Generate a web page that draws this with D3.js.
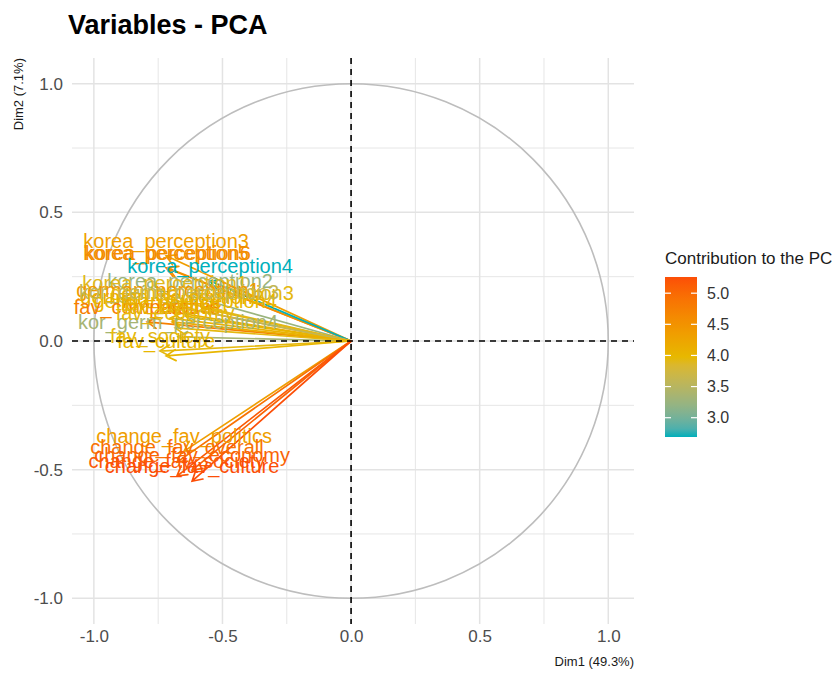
<!DOCTYPE html>
<html>
<head>
<meta charset="utf-8">
<title>Variables - PCA</title>
<script src="https://d3js.org/d3.v7.min.js"></script>
<style>
body { margin: 0; background: #fff; }
text { font-family: 'Liberation Sans', Arial, sans-serif; }
</style>
</head>
<body>
<div id="my_dataviz"></div>
<script>
// variables, coordinates on Dim1 / Dim2 and contribution
var varNames = ["korea_perception3", "korea_perception5", "korea_perception6", "korea_perception4",
  "korea_perception2", "korea_perception1", "german_perception1", "german_perception2",
  "german_perception3", "german_perception4", "kor_germ_perception3", "kor_germ_perception4",
  "fav_comparative", "fav_politics", "fav_overall", "fav_economy", "fav_society", "fav_culture",
  "change_fav_politics", "change_fav_overall", "change_fav_economy", "change_fav_society", "change_fav_culture"];
var dim1 = [-0.719, -0.719, -0.712, -0.548, -0.626, -0.723, -0.712, -0.696, -0.579, -0.645, -0.669, -0.673,
  -0.793, -0.704, -0.696, -0.684, -0.743, -0.719,
  -0.649, -0.677, -0.618, -0.677, -0.618];
var dim2 = [0.331, 0.284, 0.284, 0.233, 0.175, 0.167, 0.140, 0.113, 0.128, 0.097, 0.132, 0.016,
  0.074, 0.089, 0.074, 0.051, -0.039, -0.058,
  -0.428, -0.471, -0.502, -0.525, -0.545];
var contrib = [4.35, 4.6, 4.55, 2.69, 3.25, 3.9, 4.4, 4.1, 3.95, 4.0, 3.6, 3.35,
  4.75, 4.05, 4.15, 3.95, 3.95, 4.0,
  4.35, 4.9, 5.05, 5.15, 5.26];

var axisTicks = [-1, -0.5, 0, 0.5, 1];
var minorTicks = [-0.75, -0.25, 0.25, 0.75];
var legendTicks = [3.0, 3.5, 4.0, 4.5, 5.0];
var gradientCols = ["#00AFBB", "#E7B800", "#FC4E07"];

var width = 839, height = 675;
var panel = {left: 72, right: 634, top: 58, bottom: 624};

var svg = d3.select("#my_dataviz")
  .append("svg")
  .attr("width", width)
  .attr("height", height);

var x = d3.scaleLinear().domain([-1.085, 1.1]).range([panel.left, panel.right]);
var y = d3.scaleLinear().domain([-1.1, 1.1]).range([panel.bottom, panel.top]);

var ext = d3.extent(contrib);
var color = d3.scaleLinear()
  .domain([ext[0], (ext[0] + ext[1]) / 2, ext[1]])
  .range(gradientCols)
  .interpolate(d3.interpolateLab);

var fmt = function(d) { return d.toFixed(1); };

// grid
var grid = svg.append("g");
grid.selectAll(".minorx").data(minorTicks).enter().append("line")
  .attr("x1", d => x(d)).attr("x2", d => x(d))
  .attr("y1", panel.top).attr("y2", panel.bottom)
  .style("stroke", "#e6e6e6").style("stroke-width", 1);
grid.selectAll(".minory").data(minorTicks).enter().append("line")
  .attr("y1", d => y(d)).attr("y2", d => y(d))
  .attr("x1", panel.left).attr("x2", panel.right)
  .style("stroke", "#e6e6e6").style("stroke-width", 1);
grid.selectAll(".majorx").data(axisTicks).enter().append("line")
  .attr("x1", d => x(d)).attr("x2", d => x(d))
  .attr("y1", panel.top).attr("y2", panel.bottom)
  .style("stroke", "#e3e3e3").style("stroke-width", 1.5);
grid.selectAll(".majory").data(axisTicks).enter().append("line")
  .attr("y1", d => y(d)).attr("y2", d => y(d))
  .attr("x1", panel.left).attr("x2", panel.right)
  .style("stroke", "#e3e3e3").style("stroke-width", 1.5);

// correlation circle
svg.append("ellipse")
  .attr("cx", x(0)).attr("cy", y(0))
  .attr("rx", x(1) - x(0)).attr("ry", y(0) - y(1))
  .style("fill", "none").style("stroke", "#bdbdbd").style("stroke-width", 1.6);

// axes (labels only)
var xAxis = svg.append("g")
  .attr("transform", "translate(0," + panel.bottom + ")")
  .call(d3.axisBottom(x).tickValues(axisTicks).tickFormat(fmt).tickSize(0).tickPadding(6));
var yAxis = svg.append("g")
  .attr("transform", "translate(" + panel.left + ",0)")
  .call(d3.axisLeft(y).tickValues(axisTicks).tickFormat(fmt).tickSize(0).tickPadding(9));
[xAxis, yAxis].forEach(function(a) {
  a.select(".domain").remove();
  a.selectAll("text").style("font-size", "17px").style("fill", "#4d4d4d")
    .style("font-family", "'Liberation Sans', Arial, sans-serif");
});

// arrows
var data = varNames.map(function(n, i) {
  return {name: n, d1: dim1[i], d2: dim2[i], c: contrib[i]};
});

function arrowPath(d) {
  var x0 = x(0), y0 = y(0), x1 = x(d.d1), y1 = y(d.d2);
  var a = Math.atan2(y1 - y0, x1 - x0), len = 11, sp = Math.PI / 6;
  var hx1 = x1 - len * Math.cos(a - sp), hy1 = y1 - len * Math.sin(a - sp);
  var hx2 = x1 - len * Math.cos(a + sp), hy2 = y1 - len * Math.sin(a + sp);
  return "M" + x0 + "," + y0 + "L" + x1 + "," + y1 +
    "M" + hx1 + "," + hy1 + "L" + x1 + "," + y1 + "L" + hx2 + "," + hy2;
}

svg.append("g").selectAll("path")
  .data(data).enter().append("path")
  .attr("d", arrowPath)
  .style("fill", "none")
  .style("stroke", d => color(d.c))
  .style("stroke-width", 1.7)
  .style("stroke-linecap", "round");

svg.append("g").selectAll("text")
  .data(data).enter().append("text")
  .attr("x", d => x(d.d1))
  .attr("y", d => y(d.d2) - 8)
  .attr("text-anchor", "middle")
  .style("font-size", "20px")
  .style("fill", d => color(d.c))
  .text(d => d.name);

// reference dashed lines
svg.append("line")
  .attr("x1", panel.left).attr("x2", panel.right)
  .attr("y1", y(0)).attr("y2", y(0))
  .style("stroke", "#000").style("stroke-width", 1.6).style("stroke-dasharray", "6,5");
svg.append("line")
  .attr("x1", x(0)).attr("x2", x(0))
  .attr("y1", panel.top).attr("y2", panel.bottom)
  .style("stroke", "#000").style("stroke-width", 1.6).style("stroke-dasharray", "6,5");

// titles
svg.append("text")
  .attr("x", 68).attr("y", 34)
  .style("font-size", "27px").style("font-weight", "bold").style("fill", "#000")
  .text("Variables - PCA");
svg.append("text")
  .attr("x", panel.right).attr("y", 666)
  .attr("text-anchor", "end")
  .style("font-size", "13px").style("fill", "#1a1a1a")
  .text("Dim1 (49.3%)");
svg.append("text")
  .attr("transform", "translate(23," + panel.top + ") rotate(-90)")
  .attr("text-anchor", "end")
  .style("font-size", "13px").style("fill", "#1a1a1a")
  .text("Dim2 (7.1%)");

// legend
var leg = {x: 665, y: 277, w: 32, h: 160};
var ly = d3.scaleLinear().domain(ext).range([leg.y + leg.h, leg.y]);
var grad = svg.append("defs").append("linearGradient")
  .attr("id", "contribGrad")
  .attr("x1", "0").attr("y1", "1").attr("x2", "0").attr("y2", "0");
d3.range(0, 1.0001, 0.05).forEach(function(t) {
  grad.append("stop").attr("offset", t)
    .attr("stop-color", color(ext[0] + t * (ext[1] - ext[0])));
});
svg.append("text")
  .attr("x", leg.x).attr("y", 264)
  .style("font-size", "17px").style("fill", "#1a1a1a")
  .text("Contribution to the PC");
svg.append("rect")
  .attr("x", leg.x).attr("y", leg.y).attr("width", leg.w).attr("height", leg.h)
  .style("fill", "url(#contribGrad)");
var lt = svg.append("g").selectAll("g").data(legendTicks).enter().append("g");
lt.append("line")
  .attr("x1", leg.x).attr("x2", leg.x + 6)
  .attr("y1", d => ly(d)).attr("y2", d => ly(d))
  .style("stroke", "#fff").style("stroke-width", 1.2);
lt.append("line")
  .attr("x1", leg.x + leg.w - 6).attr("x2", leg.x + leg.w)
  .attr("y1", d => ly(d)).attr("y2", d => ly(d))
  .style("stroke", "#fff").style("stroke-width", 1.2);
lt.append("text")
  .attr("x", leg.x + leg.w + 10)
  .attr("y", d => ly(d))
  .attr("dy", "0.36em")
  .style("font-size", "16px").style("fill", "#333")
  .text(d => fmt(d));
</script>
</body>
</html>
